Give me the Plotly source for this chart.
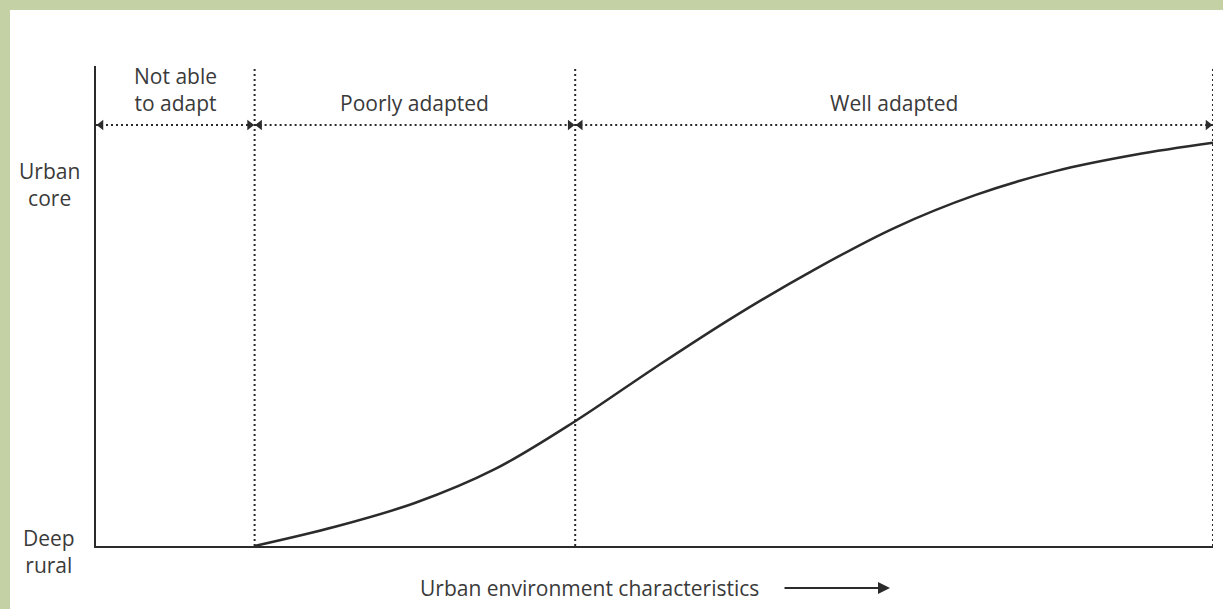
import plotly.graph_objects as go

# ---- data ----
curve_x = [14.2, 21.4, 28.6, 35.7, 42.9, 50.0, 57.2, 64.4, 71.5, 78.7, 85.9, 93.0, 100.0]
curve_y = [0.0, 4.0, 9.0, 16.0, 26.0, 37.1, 47.9, 57.7, 66.3, 73.1, 78.1, 81.5, 84.0]
zone_bounds = [0.0, 14.2, 42.9, 100.0]
zone_labels = ["Not able<br>to adapt", "Poorly adapted", "Well adapted"]
zone_label_y = [95.2, 92.3, 92.3]
arrow_level = 87.7
y_labels = ["Urban<br>core", "Deep<br>rural"]
y_label_px = [184, 551]
x_title = "Urban environment characteristics"

INK = "#2b2b2b"
TXT = "#3a3a3a"
FONT = "Open Sans"
FS = 21
W, H = 1223, 609
ML, MR, MT, MB = 96, 10, 66, 63
pw, ph = W - ML - MR, H - MT - MB

def px2paper_x(p):
    return (p - ML) / pw

def px2paper_y(p):
    return (H - MB - p) / ph

fig = go.Figure()

# dotted vertical boundaries
for b in zone_bounds[1:]:
    fig.add_trace(go.Scatter(x=[b, b], y=[0, 100], mode="lines",
                             line=dict(color=INK, width=2, dash="2px,3px"),
                             hoverinfo="skip", showlegend=False))

# dotted horizontal double arrows
for i in range(len(zone_bounds) - 1):
    a, b = zone_bounds[i], zone_bounds[i + 1]
    fig.add_trace(go.Scatter(x=[a, b], y=[arrow_level, arrow_level], mode="lines",
                             line=dict(color=INK, width=2, dash="2px,3px"),
                             hoverinfo="skip", showlegend=False))
    fig.add_trace(go.Scatter(x=[a + 0.45, b - 0.45], y=[arrow_level, arrow_level], mode="markers",
                             marker=dict(symbol=["triangle-left", "triangle-right"],
                                         size=9, color=INK, line=dict(width=0)),
                             hoverinfo="skip", showlegend=False))

# curve
fig.add_trace(go.Scatter(x=curve_x, y=curve_y, mode="lines",
                         line=dict(color=INK, width=2.5, shape="spline", smoothing=1.0),
                         hoverinfo="skip", showlegend=False))

# zone labels
for i, lab in enumerate(zone_labels):
    fig.add_annotation(x=(zone_bounds[i] + zone_bounds[i + 1]) / 2, y=zone_label_y[i],
                       xref="x", yref="y", text=lab, showarrow=False,
                       font=dict(family=FONT, size=FS, color=TXT), align="center")

# y labels
for lab, yp in zip(y_labels, y_label_px):
    fig.add_annotation(x=px2paper_x(49), y=px2paper_y(yp), xref="paper", yref="paper",
                       text=lab, showarrow=False, xanchor="center", yanchor="middle",
                       align="center", font=dict(family=FONT, size=FS, color=TXT))

# x title
fig.add_annotation(x=px2paper_x(589), y=px2paper_y(588), xref="paper", yref="paper",
                   text=x_title, showarrow=False, xanchor="center", yanchor="middle",
                   font=dict(family=FONT, size=FS, color=TXT))
fig.add_annotation(x=px2paper_x(890), y=px2paper_y(588), xref="paper", yref="paper",
                   ax=-107, ay=0, axref="pixel", ayref="pixel",
                   text="", showarrow=True, arrowhead=2, arrowsize=1.2, arrowwidth=2,
                   arrowcolor=INK)

# white panel over green frame
fig.add_shape(type="rect", xref="paper", yref="paper", layer="below",
              x0=px2paper_x(10), x1=px2paper_x(W + 5), y0=px2paper_y(H + 5), y1=px2paper_y(10),
              fillcolor="white", line=dict(width=0))

fig.update_layout(
    width=W, height=H,
    margin=dict(l=ML, r=MR, t=MT, b=MB),
    paper_bgcolor="#c3d1a4",
    plot_bgcolor="white",
    xaxis=dict(range=[0, 100], showgrid=False, zeroline=False, showticklabels=False,
               ticks="", showline=True, linecolor=INK, linewidth=2),
    yaxis=dict(range=[0, 100], showgrid=False, zeroline=False, showticklabels=False,
               ticks="", showline=True, linecolor=INK, linewidth=2),
    font=dict(family=FONT),
)

fig.write_html("out.html", config={"displayModeBar": False},
               post_script="document.body.style.margin='0';")
